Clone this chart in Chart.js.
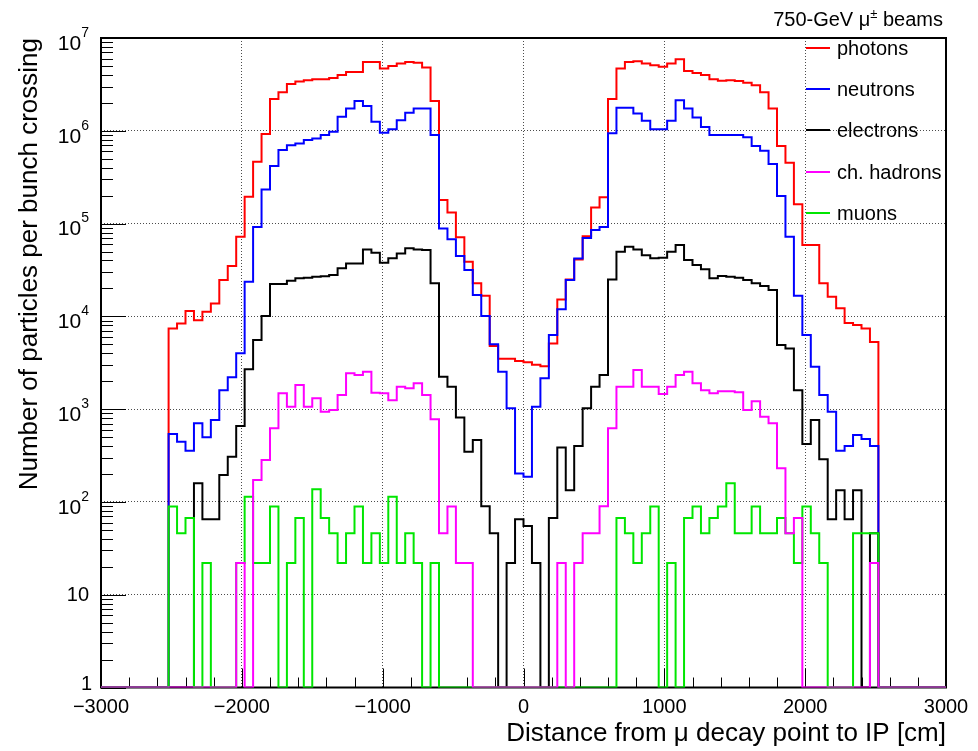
<!DOCTYPE html>
<html>
<head>
<meta charset="utf-8">
<title>Particles per bunch crossing vs distance</title>
<script src="https://cdn.jsdelivr.net/npm/chart.js@4.4.1/dist/chart.umd.min.js"></script>
<style>
  html, body { margin: 0; padding: 0; background: #fff; }
  #plot { display: block; }
</style>
</head>
<body>
<canvas id="plot" width="978" height="751"></canvas>
<script>
// histogram bins: 60 cm wide, filled range starts at -2520 cm, one value per bin (left to right)
const binStart = -2520;
const binWidth = 60;

const photons = [
  7400, 8400, 11400, 9100, 11200, 13800, 24600, 35000, 72000, 195000,
  463000, 921000, 2200000, 2600000, 3200000, 3400000, 3500000, 3600000, 3600000, 3700000,
  4000000, 4300000, 4300000, 5500000, 5500000, 4700000, 5000000, 5300000, 5500000, 5400000,
  4800000, 2100000, 179000, 132000, 71000, 38800, 22700, 16700, 4800, 3500,
  3500, 3300, 3200, 3000, 2900, 5100, 15200, 25000, 41000, 73000,
  149000, 192000, 2200000, 4700000, 5500000, 5600000, 5300000, 5100000, 4900000, 5300000,
  5900000, 4400000, 4200000, 4000000, 3600000, 3460000, 3500000, 3450000, 3300000, 3100000,
  2600000, 1740000, 684000, 452000, 162000, 58600, 58600, 22700, 16300, 12200,
  8500, 8060, 7400, 5300
];

const neutrons = [
  540, 445, 356, 703, 497, 763, 1600, 2200, 4000, 23600,
  92000, 233000, 417000, 620000, 700000, 730000, 795000, 828000, 900000, 975000,
  1420000, 1740000, 2100000, 1850000, 1250000, 952000, 1040000, 1300000, 1560000, 1740000,
  1740000, 900000, 88700, 67600, 44600, 31500, 17000, 10100, 5000, 2530,
  1020, 203, 187, 1060, 2150, 6300, 11900, 24600, 42000, 70000,
  85000, 92000, 940000, 1770000, 1770000, 1540000, 1280000, 1040000, 1040000, 1280000,
  2140000, 1740000, 1390000, 1100000, 900000, 900000, 900000, 900000, 850000, 684000,
  610000, 438000, 198000, 72000, 16700, 6300, 2860, 1420, 937, 356,
  400, 526, 476, 400
];

const electrons = [
  0, 0, 0, 159, 65, 65, 195, 307, 658, 2690,
  5560, 10100, 22300, 22300, 24200, 25700, 26000, 26700, 27000, 27900,
  32900, 37200, 37200, 52700, 48500, 37800, 42200, 47700, 54100, 52700,
  51800, 22700, 2230, 1740, 815, 347, 464, 90, 46, 0,
  22, 65, 55, 22, 0, 67, 387, 134, 400, 1020,
  1745, 2330, 25000, 49700, 56200, 52700, 45700, 42200, 42700, 49700,
  58600, 40400, 35700, 32100, 25700, 27200, 26700, 26000, 24600, 22700,
  21200, 19200, 4900, 4500, 1600, 421, 763, 288, 65, 134,
  65, 134, 0, 46
];

const chHadrons = [
  0, 0, 0, 0, 0, 0, 0, 0, 22, 0,
  172, 283, 621, 1480, 1060, 1820, 1060, 1310, 937, 977,
  1420, 2430, 2330, 2530, 1500, 1480, 1250, 1745, 1675, 1900,
  1420, 777, 46, 89, 22, 22, 0, 0, 0, 0,
  0, 0, 0, 0, 0, 0, 22, 0, 22, 46,
  46, 90, 621, 1745, 1745, 2640, 1745, 1745, 1455, 1745,
  2330, 2530, 1900, 1600, 1480, 1560, 1560, 1520, 980, 1220,
  828, 703, 230, 46, 67, 0, 0, 0, 0, 0,
  0, 0, 0, 22
];

const muons = [
  89, 46, 67, 0, 22, 0, 0, 0, 22, 114,
  22, 22, 89, 0, 22, 67, 0, 137, 67, 46,
  22, 46, 89, 22, 46, 22, 114, 22, 46, 22,
  0, 22, 0, 0, 0, 0, 0, 0, 0, 0,
  0, 0, 0, 0, 0, 0, 0, 0, 0, 0,
  0, 0, 0, 67, 46, 22, 46, 89, 0, 22,
  0, 67, 89, 46, 67, 89, 159, 46, 46, 89,
  46, 46, 67, 46, 22, 89, 46, 22, 0, 0,
  0, 46, 46, 46
];

const seriesNames = ['photons', 'neutrons', 'electrons', 'ch. hadrons', 'muons'];
const seriesColors = ['#ff0000', '#0000ff', '#000000', '#ff00ff', '#00e600'];
// ROOT draws the last histograms on top; chart.js draws lower order on top
const seriesOrder = [5, 4, 3, 1, 2];

const xMin = -3000, xMax = 3000;
const yExponents = [0, 1, 2, 3, 4, 5, 6, 7];
const yFloor = 1; // empty bins sit on the frame bottom, as in ROOT

const FONT = '"Liberation Sans", Arial, Helvetica, sans-serif';

function histPoints(values) {
  const pts = [{ x: xMin, y: yFloor }];
  values.forEach((v, i) => pts.push({ x: binStart + i * binWidth, y: v > 0 ? v : yFloor }));
  pts.push({ x: binStart + values.length * binWidth, y: yFloor });
  pts.push({ x: xMax, y: yFloor });
  return pts;
}

function minusLabel(v) {
  return v < 0 ? '\u2212' + Math.abs(v) : String(v);
}

// frame, inward ticks, log labels, legend and header drawn in ROOT style
const rootStyle = {
  id: 'rootStyle',
  beforeDatasetsDraw(chart) {
    const { ctx, chartArea: a, scales: { x, y } } = chart;
    ctx.save();
    ctx.strokeStyle = '#000';
    ctx.lineWidth = 1;

    for (let v = xMin; v <= xMax; v += 200) {
      const px = Math.round(x.getPixelForValue(v)) + 0.5;
      const len = v % 1000 === 0 ? 19 : 10;
      ctx.beginPath();
      ctx.moveTo(px, a.bottom);
      ctx.lineTo(px, a.bottom - len);
      ctx.stroke();
    }

    for (let e = 0; e < 7; e++) {
      for (let m = 1; m <= 9; m++) {
        const py = Math.round(y.getPixelForValue(m * Math.pow(10, e))) + 0.5;
        const len = m === 1 ? 25 : 12;
        ctx.beginPath();
        ctx.moveTo(a.left, py);
        ctx.lineTo(a.left + len, py);
        ctx.stroke();
      }
    }

    ctx.lineWidth = 2;
    ctx.strokeRect(a.left, a.top, a.right - a.left, a.bottom - a.top);
    ctx.restore();
  },
  afterDraw(chart) {
    const { ctx, scales: { y } } = chart;
    ctx.save();
    ctx.fillStyle = '#000';
    ctx.textBaseline = 'middle';

    // y labels: 1, 10, 10^2 ... 10^7
    const right = 89;
    yExponents.forEach(e => {
      const py = y.getPixelForValue(Math.pow(10, e));
      if (e === 0) {
        ctx.font = '20px ' + FONT;
        ctx.textAlign = 'right';
        ctx.fillText('1', right + 3, py - 3);
      } else if (e === 1) {
        ctx.font = '20px ' + FONT;
        ctx.textAlign = 'right';
        ctx.fillText('10', right, py + 1);
      } else {
        ctx.font = '14px ' + FONT;
        const ew = ctx.measureText(String(e)).width;
        ctx.textAlign = 'right';
        ctx.fillText(String(e), right, py - 5);
        ctx.font = '21px ' + FONT;
        ctx.fillText('10', right - ew, py + 6);
      }
    });

    // header, right aligned above the frame
    ctx.textBaseline = 'alphabetic';
    ctx.textAlign = 'left';
    const big = '20px ' + FONT, small = '13px ' + FONT;
    const parts = [['750-GeV \u03bc', big, 0], ['\u00b1', small, -8], [' beams', big, 0]];
    let total = 0;
    parts.forEach(([t, f]) => { ctx.font = f; total += ctx.measureText(t).width; });
    let hx = 943 - total;
    parts.forEach(([t, f, dy]) => {
      ctx.font = f;
      ctx.fillText(t, hx, 26 + dy);
      hx += ctx.measureText(t).width;
    });

    // legend
    const legendY = [48, 89, 130, 172, 213];
    ctx.font = '20px ' + FONT;
    ctx.textBaseline = 'middle';
    seriesNames.forEach((name, i) => {
      ctx.strokeStyle = seriesColors[i];
      ctx.lineWidth = 2;
      ctx.beginPath();
      ctx.moveTo(806, legendY[i]);
      ctx.lineTo(830, legendY[i]);
      ctx.stroke();
      ctx.fillStyle = '#000';
      ctx.fillText(name, 837, legendY[i] + 1);
    });
    ctx.restore();
  }
};

const seriesData = [photons, neutrons, electrons, chHadrons, muons];

new Chart(document.getElementById('plot'), {
  type: 'line',
  data: {
    datasets: seriesData.map((vals, i) => ({
      label: seriesNames[i],
      data: histPoints(vals),
      borderColor: seriesColors[i],
      borderWidth: 2,
      pointRadius: 0,
      stepped: 'before',
      fill: false,
      order: seriesOrder[i]
    }))
  },
  options: {
    responsive: false,
    animation: false,
    devicePixelRatio: 1,
    events: [],
    layout: { padding: { top: 38, right: 32, bottom: 0, left: 0 } },
    plugins: {
      legend: { display: false },
      tooltip: { enabled: false }
    },
    scales: {
      x: {
        type: 'linear',
        min: xMin,
        max: xMax,
        afterFit: s => { s.height = 63.5; },
        ticks: {
          stepSize: 1000,
          autoSkip: false,
          maxRotation: 0,
          padding: 8,
          color: '#000',
          font: { family: FONT, size: 20 },
          callback: v => minusLabel(v)
        },
        grid: { color: 'rgba(0,0,0,0.7)', lineWidth: 1, drawTicks: false },
        border: { display: false, dash: [1, 2] },
        title: {
          display: true,
          text: 'Distance from \u03bc decay point to IP [cm]',
          align: 'end',
          color: '#000',
          font: { family: FONT, size: 26 },
          padding: { top: 0, bottom: 2 }
        }
      },
      y: {
        type: 'logarithmic',
        min: 1,
        max: 1e7,
        afterFit: s => { s.width = 101; },
        afterBuildTicks: s => { s.ticks = yExponents.map(e => ({ value: Math.pow(10, e) })); },
        ticks: { display: false },
        grid: { color: 'rgba(0,0,0,0.7)', lineWidth: 1, drawTicks: false },
        border: { display: false, dash: [1, 2] },
        title: {
          display: true,
          text: 'Number of particles per bunch crossing',
          align: 'end',
          color: '#000',
          font: { family: FONT, size: 26 },
          padding: { top: 14, bottom: 0 }
        }
      }
    }
  },
  plugins: [rootStyle]
});
</script>
</body>
</html>
